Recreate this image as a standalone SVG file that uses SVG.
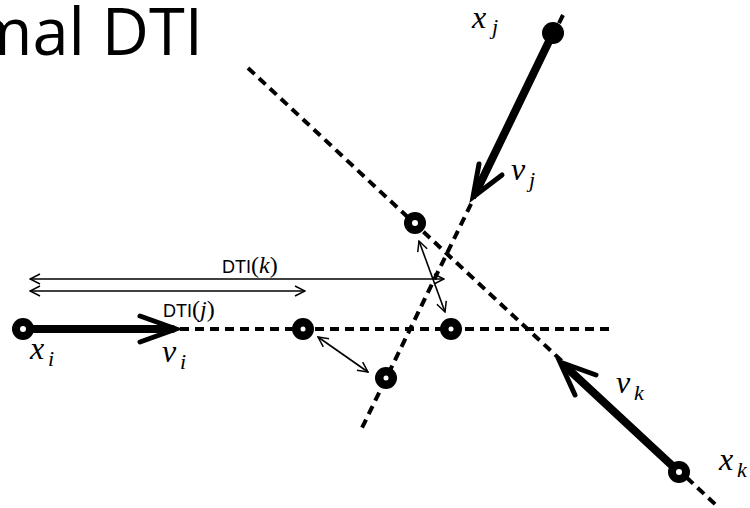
<svg xmlns="http://www.w3.org/2000/svg" width="750" height="508" viewBox="0 0 750 508">
<style>
.dash{stroke:#000;stroke-width:4;stroke-dasharray:9,6;fill:none}
.vec{stroke:#000;stroke-width:8;fill:none;stroke-linecap:round}
.head{stroke:#000;stroke-width:5;fill:none;stroke-linecap:round;stroke-linejoin:miter}
.thin{stroke:#000;stroke-width:1.6;fill:none}
</style>
<defs>
<marker id="oa" viewBox="0 0 12 12" refX="11" refY="6" markerWidth="12" markerHeight="12" orient="auto-start-reverse" markerUnits="userSpaceOnUse">
<path d="M1,1 L11,6 L1,11" fill="none" stroke="#000" stroke-width="1.5"/>
</marker>
</defs>
<text x="203" y="55" text-anchor="end" font-family="Open Sans, sans-serif" font-size="65">mal DTI</text>
<g id="connectors">
<line class="dash" x1="180" y1="329" x2="610" y2="329"/>
<line class="dash" x1="563" y1="15" x2="360" y2="432"/>
<line class="dash" x1="248" y1="68" x2="716" y2="505"/>
<line class="vec" x1="23" y1="329" x2="172" y2="329"/>
<polyline class="head" points="140,316 176,329 140,342"/>
<line class="vec" x1="553" y1="33" x2="478" y2="188"/>
<polyline class="head" points="479,164 473,197 502,175"/>
<line class="vec" x1="679" y1="472" x2="566" y2="367"/>
<polyline class="head" points="596,375 560,362 575,395"/>
<line class="thin" x1="30" y1="279" x2="444" y2="279" marker-start="url(#oa)" marker-end="url(#oa)"/>
<line class="thin" x1="30" y1="291" x2="305" y2="291" marker-start="url(#oa)" marker-end="url(#oa)"/>
<line class="thin" x1="318" y1="337" x2="368" y2="372" marker-start="url(#oa)" marker-end="url(#oa)"/>
<line class="thin" x1="419" y1="241" x2="445" y2="312" marker-start="url(#oa)" marker-end="url(#oa)"/>
</g>
<g font-family="Liberation Serif, DejaVu Serif, serif" font-style="italic">
<g id="xi"><circle cx="23" cy="329" r="11"/><circle cx="23" cy="329" r="3" fill="#fff"/>
<text font-size="32" x="30" y="359">x</text><text font-size="22" x="48" y="366">i</text></g>
<g id="vi"><text font-size="32" x="162" y="362">v</text><text font-size="22" x="180" y="369">i</text></g>
<g id="xj"><circle cx="553" cy="33" r="11"/>
<text font-size="32" x="472" y="28">x</text><text font-size="22" x="492" y="34">j</text></g>
<g id="vj"><text font-size="32" x="511" y="180">v</text><text font-size="22" x="529" y="187">j</text></g>
<g id="xk"><circle cx="679" cy="472" r="11"/><circle cx="679" cy="472" r="3" fill="#fff"/>
<text font-size="32" x="719" y="470">x</text><text font-size="22" x="737" y="477">k</text></g>
<g id="vk"><text font-size="32" x="616" y="393">v</text><text font-size="22" x="634" y="400">k</text></g>
</g>
<g id="n1"><circle cx="303" cy="329" r="11"/><circle cx="303" cy="329" r="2.5" fill="#fff"/></g>
<g id="n2"><circle cx="451" cy="329" r="11"/><circle cx="451" cy="329" r="2.5" fill="#fff"/></g>
<g id="n3"><circle cx="415" cy="223" r="11"/><circle cx="415" cy="223" r="3" fill="#fff"/></g>
<g id="n4"><circle cx="386" cy="378" r="11"/><circle cx="386" cy="378" r="2.5" fill="#fff"/></g>
<g id="dtik"><text x="222" y="273" font-family="Liberation Serif, serif" font-size="24"><tspan font-family="Liberation Sans, sans-serif" font-size="18">DTI</tspan>(<tspan font-style="italic">k</tspan>)</text></g>
<g id="dtij"><text x="163" y="317" font-family="Liberation Serif, serif" font-size="24"><tspan font-family="Liberation Sans, sans-serif" font-size="18">DTI</tspan>(<tspan font-style="italic">j</tspan>)</text></g>
</svg>
